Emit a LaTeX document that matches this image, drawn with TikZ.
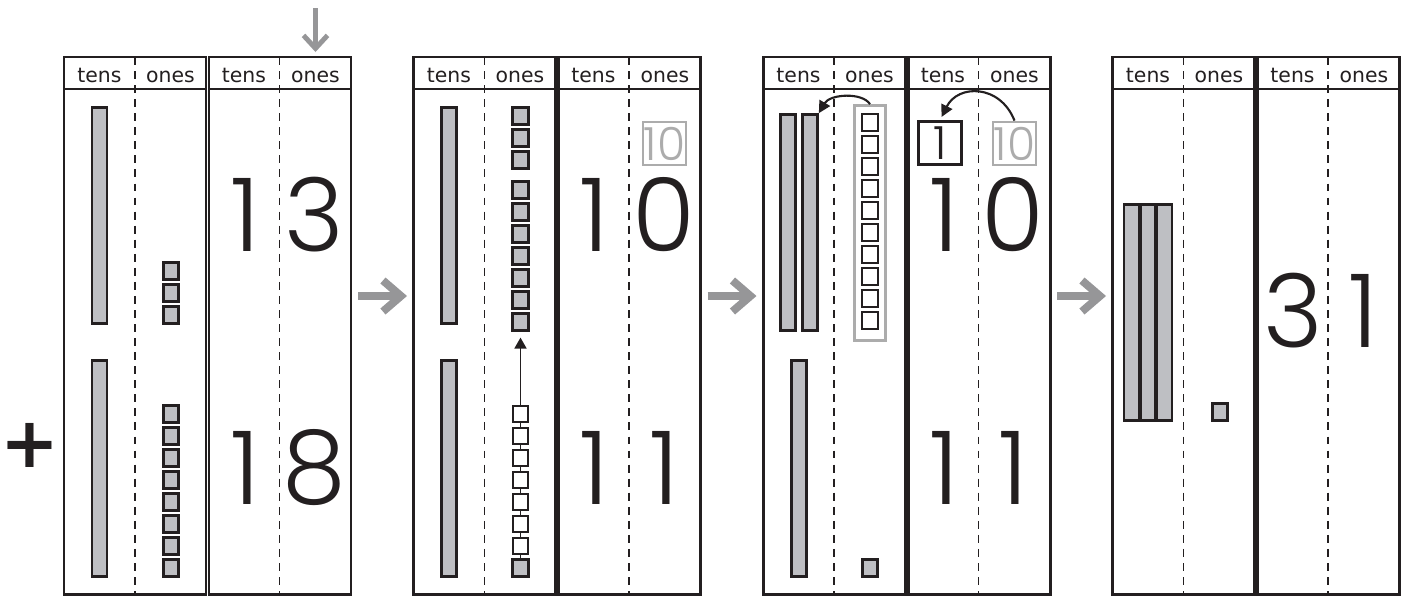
\documentclass[tikz,border=0pt]{standalone}
\usepackage{fontspec}
\setmainfont{DejaVu Sans}
\newfontfamily\digitfont{Poppins Light}
\usetikzlibrary{arrows.meta,backgrounds}

\definecolor{ink}{RGB}{35,31,32}
\definecolor{blockgray}{RGB}{190,191,195}
\definecolor{boxgray}{RGB}{172,172,172}
\definecolor{arrowgray}{RGB}{150,150,152}

\tikzset{
  chart/.style={draw=ink, line width=1.7pt},
  coldash/.style={draw=ink, line width=0.8pt, dash pattern=on 4.5pt off 3.5pt},
  head/.style={anchor=base, inner sep=0pt, text=ink, font=\fontsize{11.6}{14}\selectfont},
  rod/.style={draw=ink, fill=blockgray, line width=1.5pt, inner sep=0pt, minimum width=0.3cm, minimum height=4.32cm},
  cube/.style={draw=ink, fill=blockgray, line width=1.5pt, inner sep=0pt, minimum width=0.31cm, minimum height=0.33cm},
  opencube/.style={cube, fill=white, line width=1.1pt},
  digit/.style={inner sep=0pt, text=ink, font=\digitfont\fontsize{58}{58}\selectfont},
  tenbox/.style={draw=boxgray, line width=1.6pt, minimum size=0.86cm, inner sep=0pt, text=boxgray, font=\digitfont\fontsize{26}{26}\selectfont},
  onebox/.style={tenbox, draw=ink, text=ink},
  trade/.style={draw=ink, line width=1.2pt, -{Triangle[length=0.24cm,width=0.24cm]}},
  nextarrow/.style={draw=arrowgray, line width=4.5pt, -{Straight Barb[length=0.36cm,width=0.62cm]}}
}

\begin{document}
\begin{tikzpicture}[x=0.02cm, y=-0.02cm]
        \useasboundingbox (0,0) rectangle (1406,596);
        % place value charts
        \foreach \x [count=\i] in {64,413.5,763,1112.5} {
            \draw[chart] (\x,57) rectangle (\x+142,594);
            \draw[chart] (\x+145,57) rectangle (\x+287,594);
            \draw[chart] (\x,89) -- (\x+142,89) (\x+145,89) -- (\x+287,89);
            \draw[coldash] (\x+71,57) -- (\x+71,594) (\x+215.5,57) -- (\x+215.5,594);
            \node[head] (tensa\i) at (\x+35.5,82) {tens};
            \node[head] (onesa\i) at (\x+106.5,82) {ones};
            \node[head] (tensb\i) at (\x+180,82) {tens};
            \node[head] (onesb\i) at (\x+251.5,82) {ones};
        }
        \coordinate (addtop) at (315.5,8);
        \coordinate (addbot) at (315.5,52);
        \draw[nextarrow, line width=2.8pt, -{Straight Barb[length=0.26cm,width=0.48cm]}] (addtop) -- (addbot);
        \node[inner sep=0pt, text=ink, font=\bfseries\fontsize{40}{40}\selectfont] (plus) at (29.5,445) {+};
        % step arrows
        \foreach \a [count=\i] in {358,707.5,1057} {
            \coordinate (from\i) at (\a,296);
            \coordinate (to\i) at (\a+49,296);
            \draw[nextarrow] (from\i) -- (to\i);
        }
        % 13 + 18
        \node[rod] (r1a) at (99.5,215.5) {};
        \node[rod] (r1b) at (99.5,468.5) {};
        \foreach \y [count=\i] in {271,293,315} \node[cube] (a\i) at (171,\y) {};
        \foreach \y [count=\i] in {414,436,...,568} \node[cube] (b\i) at (171,\y) {};
        \node[digit] (t13) at (245,215) {1};
        \node[digit] (o13) at (314,215) {3};
        \node[digit] (t18) at (245,468) {1};
        \node[digit] (o18) at (314,468) {8};
        % ten ones
        \node[rod] (r2a) at (449,215.5) {};
        \node[rod] (r2b) at (449,468.5) {};
        \foreach \y [count=\i] in {116,138,160} \node[cube] (c\i) at (520.5,\y) {};
        \foreach \y [count=\i] in {190,212,...,322} \node[cube] (d\i) at (520.5,\y) {};
        \foreach \y [count=\i] in {414,436,...,546} \node[opencube] (e\i) at (520.5,\y) {};
        \node[cube] (e8) at (520.5,568) {};
        \begin{scope}[on background layer]
            \draw[trade, line width=1pt, -{Triangle[length=0.22cm,width=0.24cm]}, shorten >=0.12cm] (e8.north) -- (d7.south);
        \end{scope}
        \node[digit] (t10) at (594.5,215) {1};
        \node[digit] (o10) at (664,215) {0};
        \node[tenbox] (ten2) at (664.5,143.5) {10};
        \node[digit] (t11) at (594.5,468) {1};
        \node[digit] (o11) at (664,468) {1};
        % regroup
        \node[rod] (r3a) at (788,222.5) {};
        \node[rod] (r3b) at (810,222.5) {};
        \node[rod] (r3c) at (799,468.5) {};
        \node[draw=boxgray, line width=1.6pt, inner sep=0pt, minimum width=0.62cm, minimum height=4.7cm] (tens3) at (870,223) {};
        \foreach \y [count=\i] in {122.5,144.5,...,320.5} \node[opencube] (f\i) at (870,\y) {};
        \node[cube] (g1) at (870,568) {};
        \draw[trade] (tens3.north) .. controls (862,92) and (830,94) .. (r3b.north east);
        \node[onebox] (one3) at (940,143) {1};
        \node[tenbox] (ten3) at (1014.5,143.5) {10};
        \draw[trade, shorten >=2pt] (ten3.north) .. controls (1000,84) and (958,84) .. (one3.north);
        \node[digit] (t10b) at (944,215) {1};
        \node[digit] (o10b) at (1013,215) {0};
        \node[digit] (t11b) at (944,468) {1};
        \node[digit] (o11b) at (1013,468) {1};
        % 31
        \node[rod] (r4a) at (1131.5,312.5) {};
        \node[rod] (r4b) at (1148,312.5) {};
        \node[rod] (r4c) at (1164.5,312.5) {};
        \node[cube] (h1) at (1220,412) {};
        \node[digit] (t31) at (1293,311) {3};
        \node[digit] (o31) at (1363,311) {1};
\end{tikzpicture}
\end{document}
